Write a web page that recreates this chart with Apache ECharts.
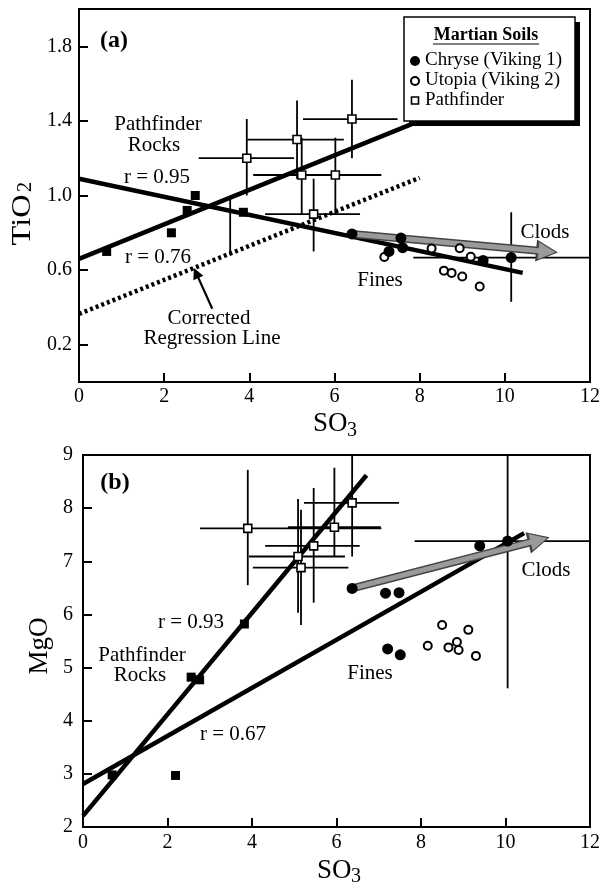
<!DOCTYPE html>
<html>
<head>
<meta charset="utf-8">
<script src="https://cdn.jsdelivr.net/npm/echarts@6.0.0/dist/echarts.min.js"></script>
<style>
html, body { margin: 0; padding: 0; background: #fff; }
#chart { width: 603px; height: 887px; }
</style>
</head>
<body>
<div id="chart"></div>
<script>
// ---- panel (a): TiO2 vs SO3 ----
const pathRocksA = [[0.65, 0.70], [2.17, 0.80], [2.54, 0.92], [2.73, 1.00], [3.86, 0.91]];
// Pathfinder soils: x, y, xlo, xhi, ylo, yhi
const pathSoilsA = [
    [3.94, 1.20, 2.81, 5.05, 1.00, 1.41],
    [5.12, 1.30, 3.95, 6.22, 1.09, 1.51],
    [6.41, 1.41, 5.26, 7.48, 1.20, 1.62],
    [5.23, 1.11, 4.09, 6.33, 0.90, 1.31],
    [6.02, 1.11, 4.90, 7.10, 0.90, 1.31],
    [5.51, 0.90, 4.37, 6.60, 0.70, 1.09],
];
const strayBarA = [[3.55, 0.83, 3.55, 3.55, 0.68, 0.98]];
const chryseA = [[6.41, 0.794], [7.56, 0.772], [7.60, 0.72], [7.28, 0.70], [9.49, 0.652], [10.15, 0.667]];
const chryseErrA = [[10.15, 0.667, 7.85, 12, 0.43, 0.91]];
const utopiaA = [[7.17, 0.67], [8.28, 0.716], [8.94, 0.717], [9.20, 0.672], [8.57, 0.597], [8.75, 0.585], [9.00, 0.566], [9.41, 0.512]];
const fitRocksA = [[0, 0.66], [8, 1.40]];
const fitSoilsA = [[0, 1.09], [10.42, 0.585]];
const correctedA = [[0, 0.365], [8, 1.095]];
const clodArrowA = [[6.41, 0.794], [10.99, 0.70]];
const pointerA = [[3.13, 0.393], [2.75, 0.585]];
const yLabelsA = [0.2, 0.6, 1.0, 1.4, 1.8];

// ---- panel (b): MgO vs SO3 ----
const pathRocksB = [[0.69, 2.98], [2.19, 2.97], [2.56, 4.82], [2.76, 4.77], [3.82, 5.82]];
const pathSoilsB = [
    [3.90, 7.62, 2.77, 7.06, 6.55, 8.72],
    [5.09, 7.09, 3.93, 6.20, 6.03, 8.17],
    [5.16, 6.88, 4.02, 6.28, 5.80, 7.97],
    [5.46, 7.29, 4.31, 6.55, 6.22, 8.38],
    [5.95, 7.64, 4.85, 7.05, 7.08, 8.76],
    [6.37, 8.10, 5.23, 7.48, 7.09, 9.00],
];
const chryseB = [[6.37, 6.49], [7.16, 6.40], [7.48, 6.41], [9.39, 7.29], [10.05, 7.38], [7.21, 5.35], [7.51, 5.24]];
const chryseErrB = [[10.05, 7.38, 7.85, 12, 4.61, 9.0]];
const utopiaB = [[8.50, 5.80], [9.12, 5.71], [8.16, 5.41], [8.65, 5.38], [8.89, 5.33], [8.85, 5.48], [9.30, 5.22]];
const fitRocksB = [[0, 2.21], [6.71, 8.62]];
const fitSoilsB = [[0, 2.81], [10.44, 7.53]];
const clodArrowB = [[6.37, 6.49], [10.79, 7.40]];

const FONT = '"Liberation Serif", "DejaVu Serif", serif';

// error bars drawn through the axis scale
function errorBars(params, api) {
    const y = api.value(1), x = api.value(0);
    const a = api.coord([api.value(2), y]);
    const b = api.coord([api.value(3), y]);
    const c = api.coord([x, api.value(4)]);
    const d = api.coord([x, api.value(5)]);
    const style = { stroke: '#000', lineWidth: 1.8 };
    return {
        type: 'group',
        children: [
            { type: 'line', shape: { x1: a[0], y1: a[1], x2: b[0], y2: b[1] }, style: style },
            { type: 'line', shape: { x1: c[0], y1: c[1], x2: d[0], y2: d[1] }, style: style },
        ],
    };
}

function barSeries(data, i) {
    return {
        type: 'custom', xAxisIndex: i, yAxisIndex: i, data: data, clip: true, silent: true, z: 1,
        encode: { x: [0, 2, 3], y: [1, 4, 5] },
        renderItem: errorBars,
    };
}
function fitSeries(data, i, dashed) {
    return {
        type: 'line', xAxisIndex: i, yAxisIndex: i, data: data, symbol: 'none', silent: true, z: 2,
        lineStyle: { color: '#000', width: dashed ? 4.5 : 4.5, type: dashed ? [3, 3] : 'solid' },
    };
}
function arrowSeries(data, i) {
    return [
        {
            type: 'lines', coordinateSystem: 'cartesian2d', xAxisIndex: i, yAxisIndex: i, silent: true, z: 3,
            symbol: ['none', 'triangle'], symbolSize: 22,
            lineStyle: { color: '#444', width: 8, opacity: 1 },
            data: [{ coords: data }],
        },
        {
            type: 'lines', coordinateSystem: 'cartesian2d', xAxisIndex: i, yAxisIndex: i, silent: true, z: 4,
            symbol: ['none', 'triangle'], symbolSize: 17,
            lineStyle: { color: '#9a9a9a', width: 5, opacity: 1 },
            data: [{ coords: data }],
        },
    ];
}
function dots(data, i, kind) {
    const s = { type: 'scatter', xAxisIndex: i, yAxisIndex: i, data: data, silent: true, z: 6 };
    if (kind === 'filled') { s.symbol = 'circle'; s.symbolSize = 11; s.itemStyle = { color: '#000', opacity: 1 }; }
    if (kind === 'open') { s.symbol = 'circle'; s.symbolSize = 8; s.itemStyle = { color: '#fff', borderColor: '#000', borderWidth: 2, opacity: 1 }; }
    if (kind === 'rock') { s.symbol = 'rect'; s.symbolSize = 9; s.itemStyle = { color: '#000', opacity: 1 }; }
    if (kind === 'soil') { s.symbol = 'rect'; s.symbolSize = 8; s.itemStyle = { color: '#fff', borderColor: '#000', borderWidth: 1.6, opacity: 1 }; }
    return s;
}

const tickStyle = { inside: true, length: 9, lineStyle: { color: '#000', width: 2 } };
const lineStyleAx = { show: true, lineStyle: { color: '#000', width: 2 } };

function label(text, x, y, size, bold) {
    return {
        type: 'text', x: x, y: y, z: 100,
        style: { text: text, fill: '#000', font: (bold ? 'bold ' : '') + size + 'px ' + FONT, textAlign: 'center', textVerticalAlign: 'middle' },
    };
}
function leftText(text, x, y, size) {
    return {
        type: 'text', x: x, y: y, z: 100,
        style: { text: text, fill: '#000', font: size + 'px ' + FONT, textAlign: 'left', textVerticalAlign: 'middle' },
    };
}

const chart = echarts.init(document.getElementById('chart'));
chart.setOption({
    animation: false,
    backgroundColor: '#fff',
    grid: [
        { left: 79, top: 9, width: 514, height: 373, show: true, borderColor: '#000', borderWidth: 2, backgroundColor: 'transparent' },
        { left: 83, top: 455, width: 512, height: 372, show: true, borderColor: '#000', borderWidth: 2, backgroundColor: 'transparent' },
    ],
    xAxis: [
        {
            gridIndex: 0, type: 'value', min: 0, max: 12, interval: 2,
            axisLine: lineStyleAx, axisTick: tickStyle, splitLine: { show: false },
            axisLabel: { color: '#000', fontSize: 20, fontFamily: FONT, margin: 5 },
        },
        {
            gridIndex: 1, type: 'value', min: 0, max: 12, interval: 2,
            axisLine: lineStyleAx, axisTick: tickStyle, splitLine: { show: false },
            axisLabel: { color: '#000', fontSize: 20, fontFamily: FONT, margin: 6 },
        },
    ],
    yAxis: [
        {
            gridIndex: 0, type: 'value', min: 0, max: 2, interval: 0.2,
            axisLine: lineStyleAx, splitLine: { show: false },
            axisTick: Object.assign({ customValues: yLabelsA }, tickStyle),
            axisLabel: { color: '#000', fontSize: 20, fontFamily: FONT, margin: 7, customValues: yLabelsA, formatter: v => v.toFixed(1) },
        },
        {
            gridIndex: 1, type: 'value', min: 2, max: 9, interval: 1,
            axisLine: lineStyleAx, axisTick: tickStyle, splitLine: { show: false },
            axisLabel: { color: '#000', fontSize: 20, fontFamily: FONT, margin: 10 },
        },
    ],
    series: [
        barSeries(pathSoilsA, 0),
        barSeries(strayBarA, 0),
        barSeries(chryseErrA, 0),
        fitSeries(fitRocksA, 0, false),
        fitSeries(fitSoilsA, 0, false),
        fitSeries(correctedA, 0, true),
        ...arrowSeries(clodArrowA, 0),
        {
            type: 'lines', coordinateSystem: 'cartesian2d', xAxisIndex: 0, yAxisIndex: 0, silent: true, z: 5,
            symbol: ['none', 'triangle'], symbolSize: 11,
            lineStyle: { color: '#000', width: 2.2, opacity: 1 },
            data: [{ coords: pointerA }],
        },
        dots(pathRocksA, 0, 'rock'),
        dots(pathSoilsA, 0, 'soil'),
        dots(utopiaA, 0, 'open'),
        dots(chryseA, 0, 'filled'),

        barSeries(pathSoilsB, 1),
        barSeries(chryseErrB, 1),
        fitSeries(fitRocksB, 1, false),
        fitSeries(fitSoilsB, 1, false),
        ...arrowSeries(clodArrowB, 1),
        dots(pathRocksB, 1, 'rock'),
        dots(pathSoilsB, 1, 'soil'),
        dots(utopiaB, 1, 'open'),
        dots(chryseB, 1, 'filled'),
    ],
    graphic: [
        // axis titles
        { type: 'text', x: 23, y: 220, rotation: Math.PI / 2, scaleX: 1.2, z: 100,
          style: { text: 'TiO', fill: '#000', font: '27px ' + FONT, textAlign: 'center', textVerticalAlign: 'middle' } },
        { type: 'text', x: 26, y: 187, rotation: Math.PI / 2, z: 100,
          style: { text: '2', fill: '#000', font: '20px ' + FONT, textAlign: 'center', textVerticalAlign: 'middle' } },
        leftText('SO', 313, 424, 27),
        leftText('3', 347, 431, 20),
        { type: 'text', x: 40, y: 646, rotation: Math.PI / 2, z: 100,
          style: { text: 'MgO', fill: '#000', font: '27px ' + FONT, textAlign: 'center', textVerticalAlign: 'middle' } },
        leftText('SO', 317, 871, 27),
        leftText('3', 351, 877, 20),

        // panel (a) annotations
        label('(a)', 114, 41, 24, true),
        label('Pathfinder', 158, 124, 21),
        label('Rocks', 154, 145, 21),
        label('r = 0.95', 157, 177, 21),
        label('r = 0.76', 158, 257, 21),
        label('Corrected', 209, 318, 21),
        label('Regression Line', 212, 338, 21),
        label('Fines', 380, 280, 21),
        label('Clods', 545, 232, 21),

        // panel (b) annotations
        label('(b)', 115, 483, 24, true),
        label('r = 0.93', 191, 622, 21),
        label('Pathfinder', 142, 655, 21),
        label('Rocks', 140, 675, 21),
        label('r = 0.67', 233, 734, 21),
        label('Fines', 370, 673, 21),
        label('Clods', 546, 570, 21),

        // legend box
        { type: 'rect', shape: { x: 409, y: 22, width: 171, height: 104 }, style: { fill: '#000' }, z: 90 },
        { type: 'rect', shape: { x: 404, y: 17, width: 171, height: 104 }, style: { fill: '#fff', stroke: '#000', lineWidth: 1.5 }, z: 91 },
        label('Martian Soils', 486, 35, 18, true),
        { type: 'line', shape: { x1: 433, y1: 44, x2: 539, y2: 44 }, style: { stroke: '#000', lineWidth: 1.2 }, z: 100 },
        { type: 'circle', shape: { cx: 415, cy: 61, r: 5 }, style: { fill: '#000' }, z: 100 },
        { type: 'circle', shape: { cx: 415, cy: 81, r: 4 }, style: { fill: '#fff', stroke: '#000', lineWidth: 2 }, z: 100 },
        { type: 'rect', shape: { x: 411.5, y: 97, width: 7, height: 7 }, style: { fill: '#fff', stroke: '#000', lineWidth: 1.6 }, z: 100 },
        leftText('Chryse (Viking 1)', 425, 60, 19),
        leftText('Utopia (Viking 2)', 425, 80, 19),
        leftText('Pathfinder', 425, 100, 19),
    ],
});
</script>
</body>
</html>
